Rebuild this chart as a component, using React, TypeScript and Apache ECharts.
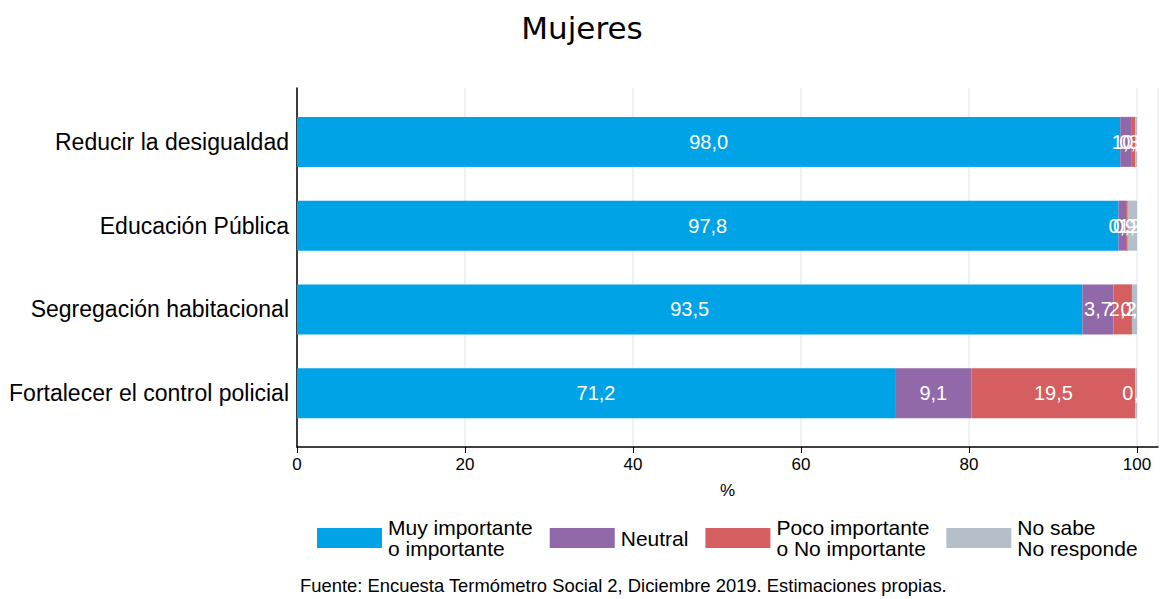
import React, { useEffect, useRef } from "react";
import * as echarts from "echarts";

const categories = [
  "Reducir la desigualdad",
  "Educación Pública",
  "Segregación habitacional",
  "Fortalecer el control policial",
];
const muyImportante = [98.0, 97.8, 93.5, 71.2];
const neutral = [1.3, 0.9, 3.7, 9.1];
const pocoImportante = [0.5, 0.2, 2.2, 19.5];
const noSabe = [0.2, 1.1, 0.6, 0.2];
const seriesNames = [
  "Muy importante\no importante",
  "Neutral",
  "Poco importante\no No importante",
  "No sabe\nNo responde",
];
const colors = ["#00A4E6", "#9168A8", "#D45E60", "#B5BFCA"];
const xTicks = [0, 20, 40, 60, 80, 100];

const FONT = "'Liberation Sans', Arial, sans-serif";

export default function App() {
  const ref = useRef<HTMLDivElement>(null);
  useEffect(() => {
    const chart = echarts.init(ref.current!, null, { renderer: "svg" });
    const data = [muyImportante, neutral, pocoImportante, noSabe];
    chart.setOption({
      animation: false,
      textStyle: { fontFamily: FONT },
      title: {
        text: "Mujeres",
        left: "center",
        top: 7,
        textStyle: { fontSize: 31, fontWeight: "normal", color: "#000", fontFamily: "'DejaVu Sans', Verdana, sans-serif" },
      },
      grid: [
        { left: 297, right: 6, top: 88, height: 359 },
        { left: 297, right: 6, top: 100, height: 335 },
      ],
      xAxis: [
        {
          gridIndex: 0,
          type: "value",
          min: 0,
          max: 102.5,
          interval: 20,
          name: "%",
          nameLocation: "middle",
          nameGap: 35,
          nameTextStyle: { fontSize: 17, color: "#000" },
          axisLine: { show: true, lineStyle: { color: "#000", width: 1.5 } },
          axisTick: { show: true, length: 6, lineStyle: { color: "#000" } },
          axisLabel: {
            fontSize: 17,
            color: "#000",
            margin: 9,
            showMaxLabel: false,
            formatter: (v: number) => (xTicks.includes(v) ? String(v) : ""),
          },
          splitLine: { show: true, lineStyle: { color: "#E8EEF2", width: 1.5 } },
        },
        {
          gridIndex: 1,
          type: "value",
          min: 0,
          max: 102.5,
          show: false,
        },
      ],
      yAxis: [
        {
          gridIndex: 0,
          type: "value",
          min: 0,
          max: 1,
          axisLine: { show: true, lineStyle: { color: "#000", width: 1.5 } },
          axisTick: { show: false },
          axisLabel: { show: false },
          splitLine: { show: false },
        },
        {
          gridIndex: 1,
          type: "category",
          inverse: true,
          data: categories,
          axisLine: { show: false },
          axisTick: { show: false },
          axisLabel: { fontSize: 23, color: "#000", margin: 8 },
        },
      ],
      legend: {
        left: 312,
        top: 512,
        itemWidth: 65,
        itemHeight: 20,
        itemGap: 17,
        icon: "rect",
        textStyle: { fontSize: 21, color: "#000", lineHeight: 21, padding: [0, 0, 0, 1] },
        data: seriesNames,
      },
      graphic: [
        {
          type: "text",
          left: 300,
          top: 576,
          style: {
            text: "Fuente: Encuesta Termómetro Social 2, Diciembre 2019. Estimaciones propias.",
            fontSize: 18.4,
            fill: "#000",
            fontFamily: FONT,
          },
        },
      ],
      series: seriesNames.map((name, i) => ({
        name,
        type: "bar",
        stack: "total",
        xAxisIndex: 1,
        yAxisIndex: 1,
        barWidth: 50,
        data: data[i],
        itemStyle: { color: colors[i] },
        label: {
          show: true,
          position: "inside",
          color: "#fff",
          fontSize: 20,
          formatter: (p: any) => Number(p.value).toFixed(1).replace(".", ","),
        },
      })),
    });
    return () => chart.dispose();
  }, []);
  return (
    <div
      ref={ref}
      style={{ position: "absolute", left: 0, top: 0, width: 1164, height: 599, background: "#fff" }}
    />
  );
}
